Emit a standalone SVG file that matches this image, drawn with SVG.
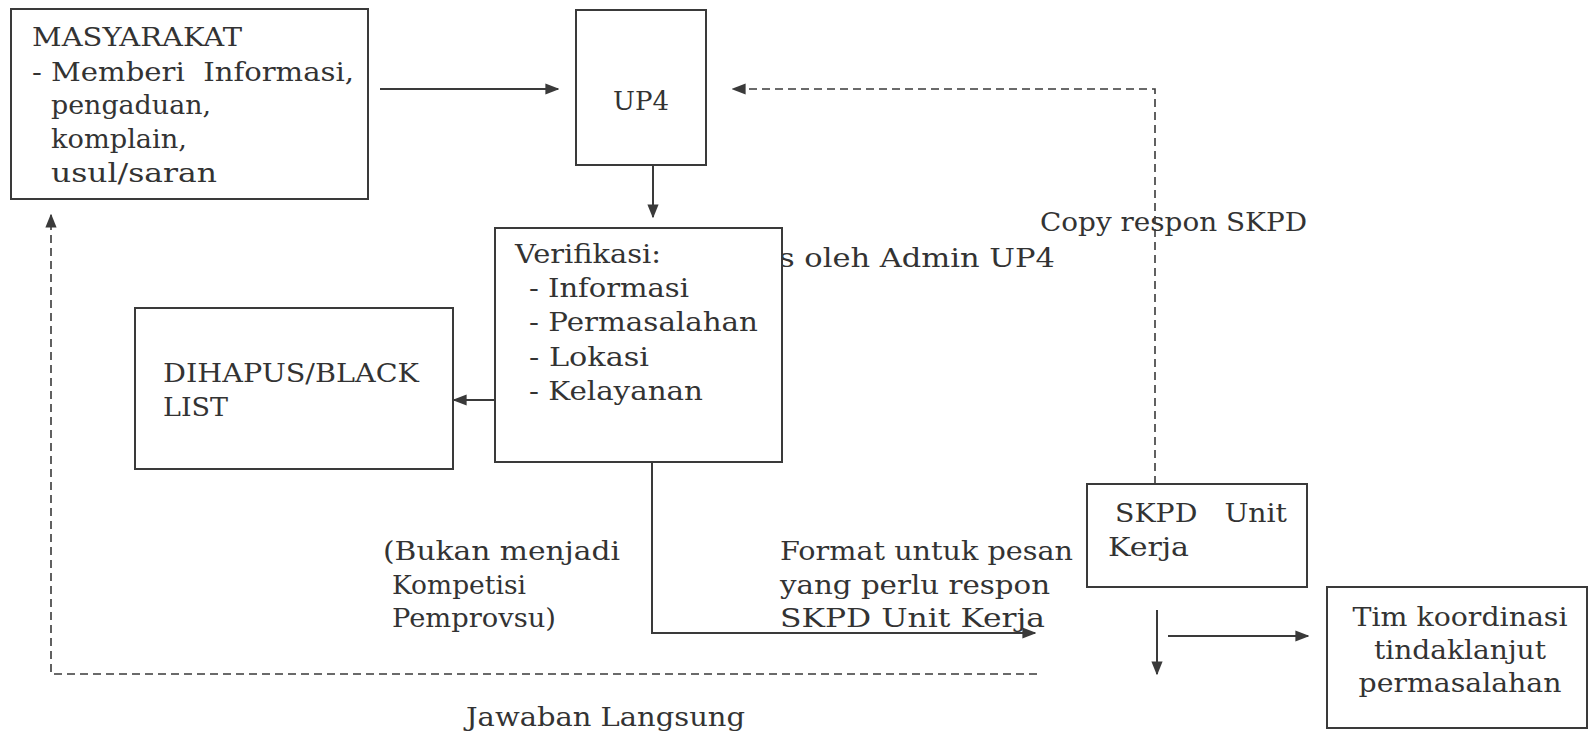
<svg xmlns="http://www.w3.org/2000/svg" width="1589" height="734" viewBox="0 0 1589 734">
<defs>
<style>
.box{fill:#fff;stroke:#3a3a3a;stroke-width:2}
.ln{fill:none;stroke:#3a3a3a;stroke-width:2}
.dash{fill:none;stroke:#3a3a3a;stroke-width:1.6;stroke-dasharray:8 5}
text{font-family:"DejaVu Serif","Liberation Serif",serif;font-size:26px;fill:#333;white-space:pre}
</style>
<marker id="a2" viewBox="0 0 10 10" refX="9" refY="5" markerWidth="14" markerHeight="14" orient="auto" markerUnits="userSpaceOnUse">
<path d="M0,1 L10,5 L0,9 z" fill="#3a3a3a"/>
</marker>
</defs>
<rect width="1589" height="734" fill="#fff"/>

<g id="labels">
<text x="779" y="267" textLength="276" lengthAdjust="spacingAndGlyphs">s oleh Admin UP4</text>
<text x="1040" y="231" textLength="267" lengthAdjust="spacingAndGlyphs">Copy respon SKPD</text>
<text x="383" y="560" textLength="237" lengthAdjust="spacingAndGlyphs">(Bukan menjadi</text>
<text x="392" y="594" textLength="134" lengthAdjust="spacingAndGlyphs">Kompetisi</text>
<text x="392" y="627" textLength="164" lengthAdjust="spacingAndGlyphs">Pemprovsu)</text>
<text x="780" y="560" textLength="293" lengthAdjust="spacingAndGlyphs">Format untuk pesan</text>
<text x="780" y="594" textLength="270" lengthAdjust="spacingAndGlyphs">yang perlu respon</text>
<text x="780" y="627" textLength="265" lengthAdjust="spacingAndGlyphs">SKPD Unit Kerja</text>
<text x="466" y="726" textLength="279" lengthAdjust="spacingAndGlyphs">Jawaban Langsung</text>
</g>

<g id="connectors">
<line class="ln" x1="380" y1="89" x2="558" y2="89" marker-end="url(#a2)"/>
<line class="ln" x1="653" y1="155" x2="653" y2="217" marker-end="url(#a2)"/>
<line class="ln" x1="522" y1="400" x2="454" y2="400" marker-end="url(#a2)"/>
<polyline class="ln" points="652,462 652,633 1035,633" marker-end="url(#a2)"/>
<polyline class="dash" points="1155,484 1155,89 733,89" marker-end="url(#a2)"/>
<polyline class="dash" points="1037,674 51,674 51,215" marker-end="url(#a2)"/>
<line class="ln" x1="1157" y1="610" x2="1157" y2="674" marker-end="url(#a2)"/>
<line class="ln" x1="1168" y1="636" x2="1308" y2="636" marker-end="url(#a2)"/>
</g>

<g id="masyarakat">
<rect class="box" x="11" y="9" width="357" height="190"/>
<text x="32" y="46" textLength="210" lengthAdjust="spacingAndGlyphs">MASYARAKAT</text>
<text x="32" y="81" textLength="322" lengthAdjust="spacingAndGlyphs">- Memberi  Informasi,</text>
<text x="51" y="114" textLength="160" lengthAdjust="spacingAndGlyphs">pengaduan,</text>
<text x="51" y="148" textLength="136" lengthAdjust="spacingAndGlyphs">komplain,</text>
<text x="51" y="182" textLength="166" lengthAdjust="spacingAndGlyphs">usul/saran</text>
</g>

<g id="up4">
<rect class="box" x="576" y="10" width="130" height="155"/>
<text x="641" y="110" text-anchor="middle" textLength="56" lengthAdjust="spacingAndGlyphs">UP4</text>
</g>

<g id="verifikasi">
<rect class="box" x="495" y="228" width="287" height="234"/>
<text x="515" y="263" textLength="146" lengthAdjust="spacingAndGlyphs">Verifikasi:</text>
<text x="529" y="297" textLength="160" lengthAdjust="spacingAndGlyphs">- Informasi</text>
<text x="529" y="331" textLength="229" lengthAdjust="spacingAndGlyphs">- Permasalahan</text>
<text x="529" y="366" textLength="120" lengthAdjust="spacingAndGlyphs">- Lokasi</text>
<text x="529" y="400" textLength="174" lengthAdjust="spacingAndGlyphs">- Kelayanan</text>
</g>

<g id="dihapus">
<rect class="box" x="135" y="308" width="318" height="161"/>
<text x="163" y="382" textLength="256" lengthAdjust="spacingAndGlyphs">DIHAPUS/BLACK</text>
<text x="163" y="416" textLength="65" lengthAdjust="spacingAndGlyphs">LIST</text>
</g>

<g id="skpd">
<rect class="box" x="1087" y="484" width="220" height="103"/>
<text x="1115" y="522" textLength="172" lengthAdjust="spacingAndGlyphs">SKPD   Unit</text>
<text x="1108" y="556" textLength="81" lengthAdjust="spacingAndGlyphs">Kerja</text>
</g>

<g id="tim">
<rect class="box" x="1327" y="587" width="260" height="141"/>
<text x="1460" y="626" text-anchor="middle" textLength="215" lengthAdjust="spacingAndGlyphs">Tim koordinasi</text>
<text x="1460" y="659" text-anchor="middle" textLength="172" lengthAdjust="spacingAndGlyphs">tindaklanjut</text>
<text x="1460" y="692" text-anchor="middle" textLength="203" lengthAdjust="spacingAndGlyphs">permasalahan</text>
</g>
</svg>
